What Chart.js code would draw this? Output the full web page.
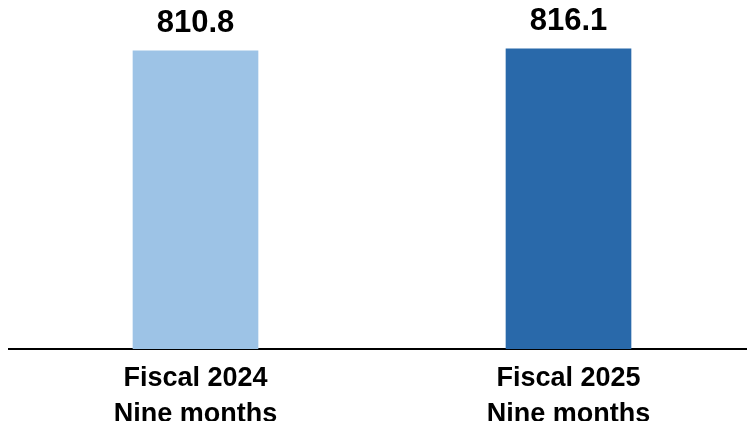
<!DOCTYPE html>
<html>
<head>
<meta charset="utf-8">
<script src="https://cdn.jsdelivr.net/npm/chart.js@4/dist/chart.umd.min.js"></script>
<style>
  html, body { margin: 0; padding: 0; background: #fff; overflow: hidden; }
  #wrap { width: 760px; height: 421px; position: relative; }
</style>
</head>
<body>
<div id="wrap"><canvas id="c" width="760" height="421"></canvas></div>
<script>
// Revenue, nine-month periods
const categories = [["Fiscal 2024", "Nine months"], ["Fiscal 2025", "Nine months"]];
const values = [810.8, 816.1];
const barColors = ["#9DC3E6", "#2969AA"];

const FONT = "'Liberation Sans', Arial, Helvetica, sans-serif";

// Value labels above each bar
const valueLabels = {
  id: "valueLabels",
  afterDatasetsDraw(chart) {
    const ctx = chart.ctx;
    const meta = chart.getDatasetMeta(0);
    ctx.save();
    ctx.font = "bold 31px " + FONT;
    ctx.fillStyle = "#000";
    ctx.textAlign = "center";
    ctx.textBaseline = "alphabetic";
    meta.data.forEach((bar, i) => {
      ctx.fillText(values[i].toFixed(1), bar.x, bar.y - 19);
    });
    ctx.restore();
  }
};

new Chart(document.getElementById("c"), {
  type: "bar",
  data: {
    labels: categories,
    datasets: [{
      data: values,
      backgroundColor: barColors,
      borderWidth: 0,
      barThickness: 125
    }]
  },
  options: {
    responsive: false,
    animation: false,
    layout: { padding: { top: 40, left: 9, right: 5, bottom: 0 } },
    plugins: { legend: { display: false }, tooltip: { enabled: false } },
    scales: {
      y: { display: false, min: 0, max: 840 },
      x: {
        grid: { display: false, drawTicks: false },
        border: { display: true, color: "#000", width: 2 },
        ticks: {
          color: "#000",
          padding: 12,
          font: { family: FONT, size: 27, weight: "bold", lineHeight: 1.333 }
        },
        afterFit(scale) { scale.height = 72; }
      }
    }
  },
  plugins: [valueLabels]
});
</script>
</body>
</html>
